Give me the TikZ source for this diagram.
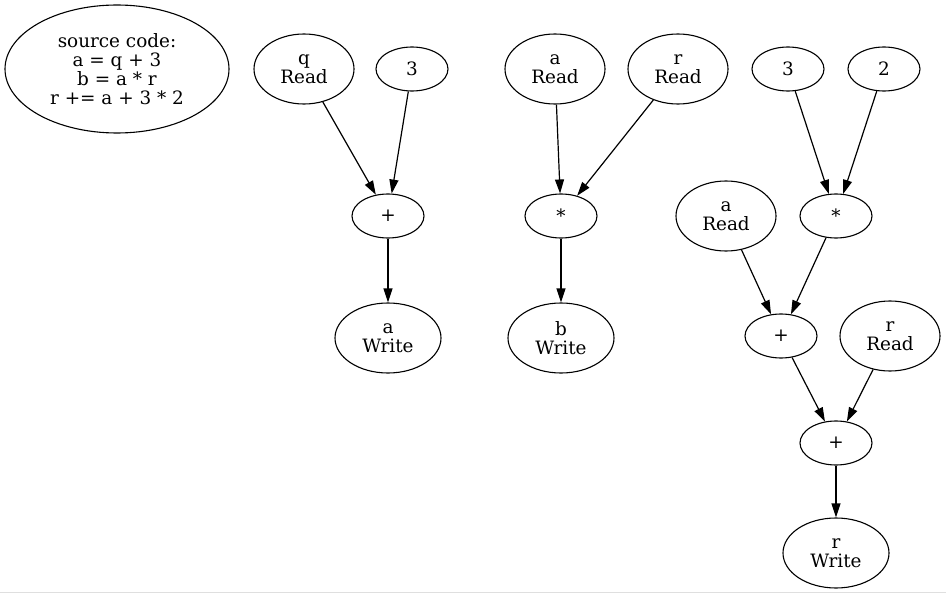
\documentclass[tikz,border=0pt]{standalone}
\usepackage{fontspec}
\setmainfont{DejaVu Serif}
\usetikzlibrary{shapes.geometric,arrows.meta}
\begin{document}
\begin{tikzpicture}[x=1pt,y=-1pt,
  every node/.style={font=\fontsize{18.4}{19}\selectfont, align=center},
  oval/.style={draw, ellipse, line width=1.1pt, inner sep=0pt},
  small/.style={oval, minimum width=72pt, minimum height=44pt},
  rw/.style={oval, minimum width=100pt, minimum height=70pt},
  wr/.style={oval, minimum width=106pt, minimum height=70pt},
  edge/.style={line width=1.2pt, -{Triangle[length=14pt,width=9pt]}}]
  \useasboundingbox (0,0) rectangle (946,594);
  % thin page border at the bottom
  \draw[gray!25, line width=1pt] (0,592.5) -- (946,592.5);

  % program text
  \node[oval, minimum width=224pt, minimum height=128pt] (src) at (117,69)
    {source code:\\a = q + 3\\b = a * r\\r += a + 3 * 2};

  % a = q + 3
  \node[rw] (qread) at (304,69) {q\\Read};
  \node[small] (c3a) at (412,69) {3};
  \node[small] (plusA) at (388,216) {+};
  \node[wr] (awrite) at (388,338) {a\\Write};
  \draw[edge] (qread) -- (plusA);
  \draw[edge] (c3a) -- (plusA);
  \draw[edge] (plusA) -- (awrite);

  % b = a * r
  \node[rw] (aread) at (555,69) {a\\Read};
  \node[rw] (rread) at (678,69) {r\\Read};
  \node[small] (mulB) at (561,216) {*};
  \node[wr] (bwrite) at (561,338) {b\\Write};
  \draw[edge] (aread) -- (mulB);
  \draw[edge] (rread) -- (mulB);
  \draw[edge] (mulB) -- (bwrite);

  % r += a + 3 * 2
  \node[small] (c3b) at (788,69) {3};
  \node[small] (c2) at (884,69) {2};
  \node[rw] (aread2) at (726,216) {a\\Read};
  \node[small] (mulR) at (836,216) {*};
  \node[small] (plusR1) at (781,336) {+};
  \node[rw] (rread2) at (890,336) {r\\Read};
  \node[small] (plusR2) at (836,443) {+};
  \node[wr] (rwrite) at (836,553) {r\\Write};
  \draw[edge] (c3b) -- (mulR);
  \draw[edge] (c2) -- (mulR);
  \draw[edge] (aread2) -- (plusR1);
  \draw[edge] (mulR) -- (plusR1);
  \draw[edge] (plusR1) -- (plusR2);
  \draw[edge] (rread2) -- (plusR2);
  \draw[edge] (plusR2) -- (rwrite);
\end{tikzpicture}
\end{document}
